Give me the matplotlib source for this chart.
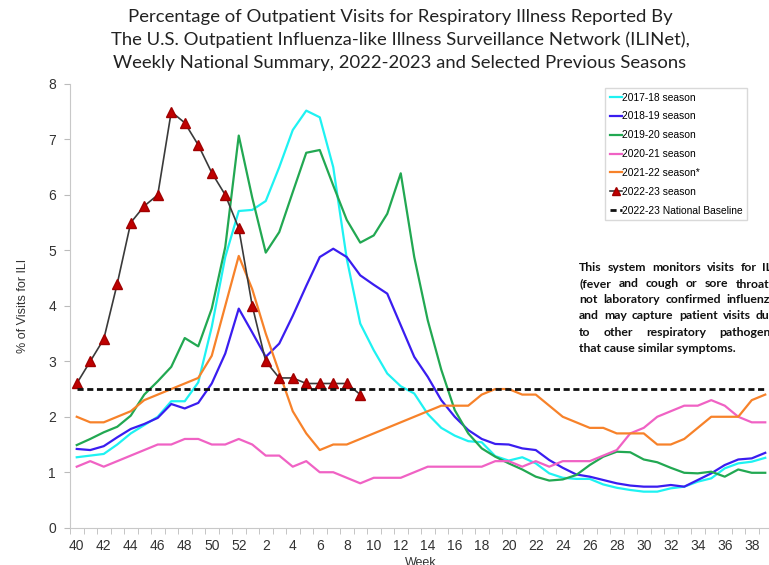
import matplotlib
matplotlib.use("Agg")
import matplotlib.pyplot as plt

plt.rcParams["font.family"] = ["Liberation Sans", "DejaVu Sans"]

# week order of a flu season: week 40 .. 52, then 1 .. 39
weeks = list(range(40, 53)) + list(range(1, 40))

s2017_18 = [1.27, 1.30, 1.33, 1.50, 1.70, 1.85, 2.00, 2.28, 2.28, 2.62, 3.62, 4.88, 5.71,
            5.73, 5.89, 6.50, 7.17, 7.52, 7.40, 6.50, 4.85, 3.68, 3.20, 2.78, 2.55, 2.42,
            2.05, 1.80, 1.66, 1.56, 1.54, 1.29, 1.21, 1.27, 1.16, 0.98, 0.90, 0.88, 0.88,
            0.78, 0.72, 0.68, 0.65, 0.65, 0.71, 0.74, 0.83, 0.89, 1.07, 1.16, 1.19, 1.26]
s2018_19 = [1.42, 1.40, 1.47, 1.63, 1.78, 1.87, 1.98, 2.23, 2.15, 2.25, 2.60, 3.14, 3.95,
            3.52, 3.08, 3.32, 3.82, 4.36, 4.88, 5.03, 4.88, 4.55, 4.38, 4.22, 3.65, 3.08,
            2.72, 2.30, 2.00, 1.76, 1.60, 1.51, 1.50, 1.43, 1.40, 1.22, 1.08, 0.96, 0.92,
            0.86, 0.80, 0.76, 0.74, 0.74, 0.77, 0.74, 0.86, 0.98, 1.13, 1.23, 1.25, 1.35]
s2019_20 = [1.49, 1.60, 1.72, 1.82, 2.02, 2.40, 2.64, 2.90, 3.42, 3.27, 3.95, 5.06, 7.07,
            5.95, 4.96, 5.33, 6.05, 6.76, 6.81, 6.17, 5.55, 5.14, 5.27, 5.66, 6.39, 4.88,
            3.74, 2.85, 2.12, 1.70, 1.43, 1.28, 1.16, 1.05, 0.92, 0.85, 0.87, 0.95, 1.13,
            1.28, 1.37, 1.36, 1.23, 1.18, 1.08, 0.99, 0.98, 1.01, 0.92, 1.05, 0.99, 0.99]
s2020_21 = [1.1, 1.2, 1.1, 1.2, 1.3, 1.4, 1.5, 1.5, 1.6, 1.6, 1.5, 1.5, 1.6,
            1.5, 1.3, 1.3, 1.1, 1.2, 1.0, 1.0, 0.9, 0.8, 0.9, 0.9, 0.9, 1.0,
            1.1, 1.1, 1.1, 1.1, 1.1, 1.2, 1.2, 1.1, 1.2, 1.1, 1.2, 1.2, 1.2,
            1.3, 1.4, 1.7, 1.8, 2.0, 2.1, 2.2, 2.2, 2.3, 2.2, 2.0, 1.9, 1.9]
s2021_22 = [2.0, 1.9, 1.9, 2.0, 2.1, 2.3, 2.4, 2.5, 2.6, 2.7, 3.1, 4.0, 4.9,
            4.3, 3.5, 2.8, 2.1, 1.7, 1.4, 1.5, 1.5, 1.6, 1.7, 1.8, 1.9, 2.0,
            2.1, 2.2, 2.2, 2.2, 2.4, 2.5, 2.5, 2.4, 2.4, 2.2, 2.0, 1.9, 1.8,
            1.8, 1.7, 1.7, 1.7, 1.5, 1.5, 1.6, 1.8, 2.0, 2.0, 2.0, 2.3, 2.4]
s2022_23 = [2.6, 3.0, 3.4, 4.4, 5.5, 5.8, 6.0, 7.5, 7.3, 6.9, 6.4, 6.0, 5.4,
            4.0, 3.0, 2.7, 2.7, 2.6, 2.6, 2.6, 2.6, 2.4]
baseline = 2.5

season_labels = ["2017-18 season", "2018-19 season", "2019-20 season",
                 "2020-21 season", "2021-22 season*"]
season_colors = ["#1ef2f2", "#3a1df0", "#22a852", "#f062c4", "#f7822a"]

title = ("Percentage of Outpatient Visits for Respiratory Illness Reported By\n"
         "The U.S. Outpatient Influenza-like Illness Surveillance Network (ILINet),\n"
         "Weekly National Summary, 2022-2023 and Selected Previous Seasons")
note_lines = ["This system monitors visits for ILI",
              "(fever and cough or sore throat),",
              "not laboratory confirmed influenza",
              "and may capture patient visits due",
              "to other respiratory pathogens",
              "that cause similar symptoms."]

W, H = 769, 565
fig = plt.figure(figsize=(W / 100, H / 100), dpi=100)
# axes runs a little past the right edge, as in the cropped original
ax = fig.add_axes([70 / W, 1 - 527.7 / H, 702 / W, (527.7 - 84) / H])

idx = list(range(len(weeks)))
series = [s2017_18, s2018_19, s2019_20, s2020_21, s2021_22]
for vals, lab, col in zip(series, season_labels, season_colors):
    ax.plot(idx, vals, color=col, lw=1.6, label=lab)

ax.plot(idx[:len(s2022_23)], s2022_23, color="#3a3a3a", lw=1.2, marker="^",
        markersize=7, markerfacecolor="#c00000", markeredgecolor="#a00000",
        label="2022-23 season")
ax.plot([idx[0], idx[-1]], [baseline, baseline], color="#111111", lw=2.0,
        dashes=(2.2, 1.3), label="2022-23 National Baseline")

ax.set_xlim(-0.5, len(weeks) - 0.5)
ax.set_ylim(0, 8)
ax.set_yticks(range(0, 9))
ax.set_xticks(idx[::2])
ax.set_xticklabels([str(w) for w in weeks[::2]])
ax.set_xticks([i - 0.5 for i in idx] + [len(weeks) - 0.5], minor=True)
ax.tick_params(axis="x", which="major", length=0, pad=8, labelsize=10, labelcolor="#333333")
ax.tick_params(axis="x", which="minor", length=4, color="#bbbbbb")
ax.tick_params(axis="y", length=4, color="#bbbbbb", labelsize=10, labelcolor="#333333", pad=6)
for s in ["top", "right"]:
    ax.spines[s].set_visible(False)
for s in ["left", "bottom"]:
    ax.spines[s].set_color("#c8c8c8")
ax.set_ylabel("% of Visits for ILI", fontsize=9, color="#333333", labelpad=14)
ax.set_xlabel("Week", fontsize=9, color="#333333", labelpad=3)

leg = fig.legend(loc="upper left", bbox_to_anchor=(605 / W, 1 - 88 / H),
                 fontsize=7.4, handlelength=1.2, handletextpad=0.0, labelspacing=0.86,
                 borderpad=0.45, borderaxespad=0, frameon=True, fancybox=False,
                 markerscale=0.75)
leg.get_frame().set_edgecolor("#d0d0d0")
leg.get_frame().set_linewidth(1.0)

fig.text(400 / W, 1 - 9 / H, title, ha="center", va="top", fontsize=13.3,
         family="Lato", color="#222222", linespacing=1.5)

# justified note block, clipped by the figure edge like the original
renderer = fig.canvas.get_renderer()
x0, x1 = 579 / W, 776 / W
for i, line in enumerate(note_lines):
    y = 1 - (267.3 + i * 16.2) / H
    kw = dict(fontsize=8.8, family="Lato", weight="bold", va="center", color="#111111")
    words = line.split()
    if i == len(note_lines) - 1:
        fig.text(x0, y, line, **kw)
        continue
    texts = [fig.text(0, y, w, **kw) for w in words]
    widths = [t.get_window_extent(renderer).width / fig.bbox.width for t in texts]
    gap = (x1 - x0 - sum(widths)) / (len(words) - 1)
    x = x0
    for t, w in zip(texts, widths):
        t.set_x(x)
        x += w + gap

fig.savefig("out.png", dpi=100)
